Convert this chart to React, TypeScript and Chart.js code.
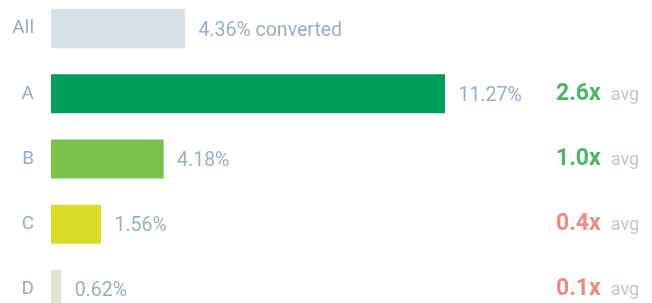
import React, { useEffect, useRef } from "react";
import { Chart, registerables } from "chart.js";

Chart.register(...registerables);

const categories = ["All", "A", "B", "C", "D"];
// Bar lengths as drawn in the picture (same units as the x scale)
const barLengths = [3.83, 11.27, 3.22, 1.43, 0.29];
const rateLabels = ["4.36% converted", "11.27%", "4.18%", "1.56%", "0.62%"];
const multipliers = ["", "2.6x", "1.0x", "0.4x", "0.1x"];
const barColors = ["#d5e0e7", "#009e5b", "#79c24a", "#d8dc27", "#dfe5d0"];
const multiplierColors = ["", "#4cb760", "#4cb760", "#f08a80", "#f08a80"];

const labelPlugin = {
  id: "rowLabels",
  afterDatasetsDraw(chart: any) {
    const ctx = chart.ctx;
    const meta = chart.getDatasetMeta(0);
    ctx.save();
    ctx.textAlign = "left";
    ctx.textBaseline = "alphabetic";
    meta.data.forEach((bar: any, i: number) => {
      const { x, y } = bar.getProps(["x", "y"], true);
      ctx.font = "400 19.5px Roboto";
      ctx.fillStyle = "#92b1ca";
      ctx.fillText(rateLabels[i], x + 13.5, y + 7);
      if (multipliers[i]) {
        const mx = chart.width - 96;
        ctx.font = "700 23px Roboto";
        ctx.fillStyle = multiplierColors[i];
        ctx.fillText(multipliers[i], mx, y + 6);
        const w = ctx.measureText(multipliers[i]).width;
        ctx.font = "400 18px Roboto";
        ctx.fillStyle = "#b7cadb";
        ctx.fillText("avg", mx + w + 10, y + 6);
      }
    });
    ctx.restore();
  },
};

export default function App() {
  const canvasRef = useRef<HTMLCanvasElement | null>(null);

  useEffect(() => {
    document.body.style.overflow = "hidden";
    const chart = new Chart(canvasRef.current as HTMLCanvasElement, {
      type: "bar",
      data: {
        labels: categories,
        datasets: [
          {
            data: barLengths,
            backgroundColor: barColors,
            borderWidth: 0,
            barPercentage: 0.6,
            categoryPercentage: 1,
          },
        ],
      },
      options: {
        indexAxis: "y",
        animation: false,
        responsive: true,
        maintainAspectRatio: false,
        layout: { autoPadding: false, padding: { left: 0, right: 41.6, top: 0, bottom: 0 } },
        plugins: { legend: { display: false }, tooltip: { enabled: false } },
        scales: {
          x: { display: false, min: 0, max: 16 },
          y: {
            grid: { display: false, drawTicks: false },
            border: { display: false },
            ticks: {
              padding: 17,
              color: "#8eaec8",
              font: { family: "Roboto", size: 19, weight: "400" },
            },
            afterFit: (scale: any) => {
              scale.width = 51;
              scale.paddingTop = 0;
              scale.paddingBottom = 0;
            },
          },
        },
      },
      plugins: [labelPlugin],
    } as any);
    return () => chart.destroy();
  }, []);

  return (
    <div style={{ position: "fixed", left: 0, top: -4, width: 652, height: 326 }}>
      <canvas ref={canvasRef} />
    </div>
  );
}
